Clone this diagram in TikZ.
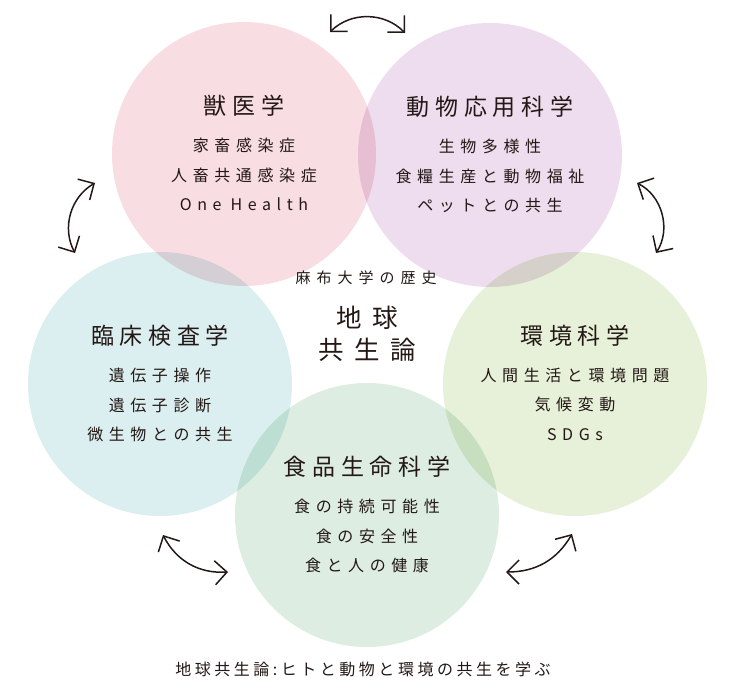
\documentclass[tikz,border=0pt]{standalone}
\usepackage{fontspec}
\setmainfont{Noto Sans CJK JP}
\usetikzlibrary{positioning,arrows.meta}
\definecolor{vetcolor}{RGB}{248,221,227}
\definecolor{animalcolor}{RGB}{237,221,238}
\definecolor{cliniccolor}{RGB}{219,239,240}
\definecolor{envcolor}{RGB}{231,240,217}
\definecolor{foodcolor}{RGB}{221,237,225}
\definecolor{inkcolor}{RGB}{35,24,21}

\begin{document}
\begin{tikzpicture}[
  x=1pt, y=1pt,
  >={Straight Barb[length=12pt, width=24pt]},
  field/.style={circle, minimum size=264pt, inner sep=0pt, blend mode=multiply},
  fieldtitle/.style={font={\fontsize{23}{23}\selectfont\addfontfeature{LetterSpace=25}}, text=inkcolor, inner sep=0pt},
  fieldtopics/.style={font={\fontsize{16}{29.5}\selectfont\addfontfeature{LetterSpace=35}}, align=center, text=inkcolor, inner sep=0pt},
  hubsmall/.style={font={\fontsize{15}{15}\selectfont\addfontfeature{LetterSpace=40}}, text=inkcolor, inner sep=0pt},
  hubbig/.style={font={\fontsize{25.5}{32.5}\selectfont\addfontfeature{LetterSpace=42}}, align=center, text=inkcolor, inner sep=0pt},
  motto/.style={font={\fontsize{16}{16}\selectfont\addfontfeature{LetterSpace=22}}, text=inkcolor, inner sep=0pt},
  swap/.style={<->, line width=1.5pt, draw=inkcolor},
]
\useasboundingbox (0,0) rectangle (740,-698);

% === Five fields (overlapping circles) ===
\node[field, fill=vetcolor] (vet) at (244,-154) {};
\node[field, fill=animalcolor] (animal) at (490,-155) {};
\node[field, fill=cliniccolor] (clinic) at (160,-384) {};
\node[field, fill=envcolor] (env) at (575,-384) {};
\node[field, fill=foodcolor] (food) at (367,-515) {};

% === Field titles and topics ===
\node[fieldtitle] at ([yshift=48pt]vet.center) (vettitle) {獣医学};
\node[fieldtopics, below=21pt of vettitle] (vettopics) {家畜感染症\\人畜共通感染症\\One\rule{9pt}{0pt}Health};

\node[fieldtitle] at ([yshift=48pt]animal.center) (animaltitle) {動物応用科学};
\node[fieldtopics, below=21pt of animaltitle] (animaltopics) {生物多様性\\食糧生産と動物福祉\\ペットとの共生};

\node[fieldtitle] at ([yshift=48pt]clinic.center) (clinictitle) {臨床検査学};
\node[fieldtopics, below=21pt of clinictitle] (clinictopics) {遺伝子操作\\遺伝子診断\\微生物との共生};

\node[fieldtitle] at ([yshift=48pt]env.center) (envtitle) {環境科学};
\node[fieldtopics, below=21pt of envtitle] (envtopics) {人間生活と環境問題\\気候変動\\SDGs};

\node[fieldtitle] at ([yshift=48pt]food.center) (foodtitle) {食品生命科学};
\node[fieldtopics, below=21pt of foodtitle] (foodtopics) {食の持続可能性\\食の安全性\\食と人の健康};

% === Centre text ===
\node[hubsmall] (hubname) at (366,-278) {麻布大学の歴史};
\node[hubbig] (hubtitle) at (367,-334) {地球\\共生論};

% === Exchange arrows between neighbouring fields ===
\coordinate (topL) at (330,-32);
\coordinate (topR) at (405,-33);
\coordinate (leftU) at (95,-183);
\coordinate (leftD) at (75,-253);
\coordinate (rightU) at (637,-183);
\coordinate (rightD) at (656,-253);
\coordinate (lowLU) at (163,-535);
\coordinate (lowLR) at (228,-572);
\coordinate (lowRL) at (506,-572);
\coordinate (lowRU) at (572,-534);

\draw[swap] (topL) to[bend left=45] (topR);
\draw[swap] (leftD) to[bend left=44] (leftU);
\draw[swap] (rightD) to[bend right=48] (rightU);
\draw[swap] (lowLU) to[bend right=33] (lowLR);
\draw[swap] (lowRL) to[bend right=30] (lowRU);

% === Caption ===
\node[motto] (caption) at (363,-669) {地球共生論:ヒトと動物と環境の共生を学ぶ};

\end{tikzpicture}
\end{document}
